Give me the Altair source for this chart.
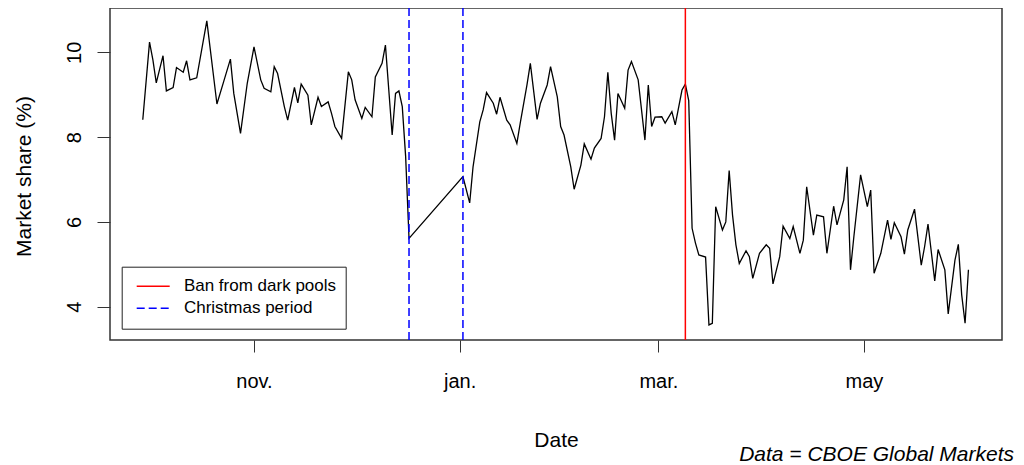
import altair as alt
import pandas as pd

# ---- data ----
dates = [
    "2017-09-29", "2017-10-01", "2017-10-02", "2017-10-03", "2017-10-05", "2017-10-06",
    "2017-10-08", "2017-10-09", "2017-10-11", "2017-10-12", "2017-10-13", "2017-10-15",
    "2017-10-18", "2017-10-21", "2017-10-23", "2017-10-25", "2017-10-26", "2017-10-28",
    "2017-10-30", "2017-11-01", "2017-11-03", "2017-11-04", "2017-11-06", "2017-11-07",
    "2017-11-08", "2017-11-10", "2017-11-11", "2017-11-13", "2017-11-14", "2017-11-15",
    "2017-11-17", "2017-11-18", "2017-11-20", "2017-11-21", "2017-11-23", "2017-11-24",
    "2017-11-25", "2017-11-27", "2017-11-29", "2017-11-30", "2017-12-01", "2017-12-03",
    "2017-12-04", "2017-12-06", "2017-12-07", "2017-12-09", "2017-12-10", "2017-12-12",
    "2017-12-13", "2017-12-14", "2017-12-15", "2017-12-16", "2017-12-17",
    "2018-01-02", "2018-01-04", "2018-01-05", "2018-01-07", "2018-01-08", "2018-01-09",
    "2018-01-11", "2018-01-12", "2018-01-13", "2018-01-15", "2018-01-16", "2018-01-18",
    "2018-01-19", "2018-01-21", "2018-01-22", "2018-01-24", "2018-01-25", "2018-01-27",
    "2018-01-28", "2018-01-30", "2018-01-31", "2018-02-01", "2018-02-03", "2018-02-04",
    "2018-02-06", "2018-02-07", "2018-02-09", "2018-02-10", "2018-02-12", "2018-02-13",
    "2018-02-14", "2018-02-15", "2018-02-16", "2018-02-17", "2018-02-19", "2018-02-20",
    "2018-02-21", "2018-02-23", "2018-02-25", "2018-02-26", "2018-02-27", "2018-02-28",
    "2018-03-02", "2018-03-03", "2018-03-05", "2018-03-06", "2018-03-08", "2018-03-09",
    "2018-03-10", "2018-03-11", "2018-03-12", "2018-03-13", "2018-03-15", "2018-03-16",
    "2018-03-17", "2018-03-18", "2018-03-20", "2018-03-21", "2018-03-22", "2018-03-23",
    "2018-03-24", "2018-03-25", "2018-03-27", "2018-03-28", "2018-03-29", "2018-03-31",
    "2018-04-02", "2018-04-03", "2018-04-04", "2018-04-06", "2018-04-07", "2018-04-09",
    "2018-04-10", "2018-04-12", "2018-04-13", "2018-04-14", "2018-04-16", "2018-04-17",
    "2018-04-19", "2018-04-20", "2018-04-22", "2018-04-23", "2018-04-25", "2018-04-26",
    "2018-04-27", "2018-04-28", "2018-04-30", "2018-05-02", "2018-05-03", "2018-05-04",
    "2018-05-06", "2018-05-08", "2018-05-09", "2018-05-10", "2018-05-12", "2018-05-13",
    "2018-05-14", "2018-05-16", "2018-05-18", "2018-05-19", "2018-05-20", "2018-05-22",
    "2018-05-23", "2018-05-25", "2018-05-26", "2018-05-28", "2018-05-29", "2018-05-30",
    "2018-05-31", "2018-06-01",
]
share = [
    8.41, 10.24, 9.82, 9.28, 9.92, 9.09,
    9.17, 9.64, 9.53, 9.80, 9.35, 9.40,
    10.74, 8.78, 9.31, 9.84, 9.03, 8.09,
    9.27, 10.13, 9.35, 9.15, 9.07, 9.66,
    9.50, 8.72, 8.40, 9.17, 8.81, 9.25,
    8.99, 8.29, 8.94, 8.72, 8.83, 8.56,
    8.25, 7.97, 9.54, 9.35, 8.88, 8.44,
    8.70, 8.48, 9.42, 9.74, 10.17, 8.05,
    9.03, 9.09, 8.72, 7.54, 5.61,
    7.07, 6.45, 7.30, 8.36, 8.64, 9.05,
    8.80, 8.54, 8.94, 8.40, 8.29, 7.85,
    8.33, 9.23, 9.74, 8.42, 8.80, 9.23,
    9.66, 8.95, 8.25, 8.05, 7.30, 6.77,
    7.34, 7.84, 7.48, 7.74, 7.97, 8.48,
    9.53, 8.56, 7.93, 9.03, 8.68, 9.58,
    9.78, 9.35, 7.93, 9.23, 8.25, 8.47,
    8.48, 8.33, 8.60, 8.29, 9.11, 9.25,
    8.86, 5.85, 5.50, 5.22, 5.17, 3.57,
    3.61, 6.36, 5.81, 6.00, 7.21, 6.16,
    5.46, 5.02, 5.32, 5.18, 4.67, 5.26,
    5.46, 5.38, 4.54, 5.18, 5.90, 5.61,
    5.89, 5.26, 5.57, 6.83, 5.69, 6.16,
    6.12, 5.26, 6.37, 5.93, 6.52, 7.30,
    4.87, 5.65, 7.11, 6.36, 6.75, 4.79,
    5.26, 6.04, 5.59, 5.98, 5.65, 5.24,
    5.81, 6.30, 4.98, 5.42, 5.95, 4.61,
    5.35, 4.87, 3.83, 5.10, 5.47, 4.28,
    3.61, 4.87,
]

event_dates = ["2018-03-09", "2017-12-17", "2018-01-02"]
event_names = ["Ban from dark pools", "Christmas period", "Christmas period"]
legend_names = ["Ban from dark pools", "Christmas period"]
legend_colors = ["#FF0000", "#0000FF"]
legend_dashes = [[1, 0], [8, 4]]

tick_dates = ["2017-11-01", "2018-01-01", "2018-03-01", "2018-05-01"]
tick_labels = ["nov.", "jan.", "mar.", "may"]
y_ticks = [4, 6, 8, 10]
x_domain = ["2017-09-19T06:30:00Z", "2018-06-10T23:00:00Z"]
y_domain = [3.215, 11.045]

FONT = "Liberation Sans, Arial, sans-serif"

# ---- build tables ----
df = pd.DataFrame({"date": dates, "share": share})
ev = pd.DataFrame({"date": event_dates, "event": event_names})

tick_ms = [int(pd.Timestamp(d, tz="UTC").value // 10**6) for d in tick_dates]
label_expr = "''"
for ms, lab in zip(reversed(tick_ms), reversed(tick_labels)):
    label_expr = f"time(datum.value) == {ms} ? '{lab}' : ({label_expr})"
dom_ms = [int(pd.Timestamp(d).value // 10**6) for d in x_domain]

x_scale = alt.Scale(type="utc", domain=dom_ms, nice=False)
y_scale = alt.Scale(domain=y_domain, nice=False, zero=False)

x_axis = alt.Axis(
    values=tick_ms, labelExpr=label_expr, grid=False, domain=False,
    tickSize=12, tickColor="#333", labelPadding=35, labelBaseline="alphabetic",
    labelFont=FONT, labelFontSize=20, labelColor="black", labelFlush=False,
    labelOverlap=False,
    title="Date", titleFont=FONT, titleFontSize=21, titleFontWeight="normal",
    titleColor="black", titleY=106, titleX=446, titleBaseline="alphabetic",
    titleAlign="center", titleAnchor="middle",
)
y_axis = alt.Axis(
    values=y_ticks, grid=False, domain=False, tickSize=13, tickColor="#333",
    labelAngle=270, labelAlign="center", labelBaseline="alphabetic", labelPadding=17,
    labelFont=FONT, labelFontSize=20, labelColor="black",
    title="Market share (%)", titleFont=FONT, titleFontSize=21,
    titleFontWeight="normal", titleColor="black", titleAngle=270,
    titleX=-80, titleY=168, titleAlign="center", titleBaseline="alphabetic",
)

line = alt.Chart(df).mark_line(color="black", strokeWidth=1.3).encode(
    x=alt.X("date:T", scale=x_scale, axis=x_axis),
    y=alt.Y("share:Q", scale=y_scale, axis=y_axis),
)

rules = alt.Chart(ev).mark_rule(strokeWidth=1.5).encode(
    x=alt.X("date:T", scale=x_scale),
    color=alt.Color(
        "event:N",
        scale=alt.Scale(domain=legend_names, range=legend_colors),
        legend=alt.Legend(
            title=None, orient="none", legendX=11.7, legendY=258.7,
            strokeColor="#222", fillColor="white", padding=8.8,
            symbolType="stroke", symbolSize=1089, symbolStrokeWidth=1.5,
            symbolOffset=5.2, clipHeight=21.7,
            labelFont=FONT, labelFontSize=17, labelColor="black",
            labelOffset=13.2, rowPadding=0, labelLimit=0,
        ),
    ),
    strokeDash=alt.StrokeDash(
        "event:N",
        scale=alt.Scale(domain=legend_names, range=legend_dashes),
        legend=None,
    ),
)

chart = alt.layer(line, rules).properties(
    width=892, height=332,
    background="white",
    autosize=alt.AutoSizeParams(type="none"),
    padding={"left": 102, "top": 0, "right": 14, "bottom": 125},
    title=alt.TitleParams(
        text="Data = CBOE Global Markets", orient="bottom", anchor="end",
        frame="group", font=FONT, fontSize=21, fontStyle="italic",
        fontWeight="normal", color="black", offset=-6, dx=12,
    ),
).configure_view(stroke="#333", strokeWidth=1.5)

chart.save("out.html", embed_options={"renderer": "svg", "actions": False})
